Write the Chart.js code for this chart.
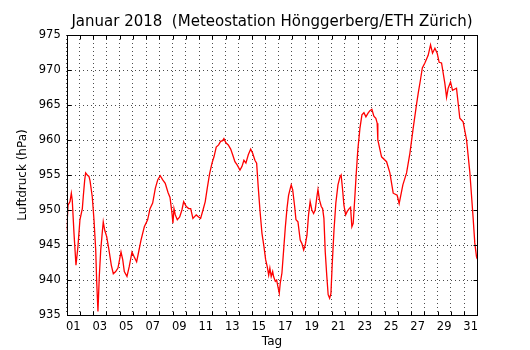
<!DOCTYPE html>
<html lang="de">
<head>
<meta charset="utf-8">
<title>Luftdruck Januar 2018</title>
<script src="https://cdn.jsdelivr.net/npm/chart.js@4/dist/chart.umd.min.js"></script>
<style>
    html, body { margin: 0; padding: 0; background: #fff; }
    canvas { display: block; }
</style>
</head>
<body>
<canvas id="druckChart" width="530" height="350"></canvas>
<script>
// Zeit in Tagen seit 1. Januar 00:00
const tage = [
    0.00, 0.10, 0.25, 0.35, 0.42, 0.55, 0.70, 0.85, 1.00, 1.18,
    1.25, 1.36, 1.43, 1.55, 1.68, 1.76, 1.93, 2.06, 2.19, 2.26,
    2.36, 2.46, 2.57, 2.69, 2.76, 2.87, 3.02, 3.19, 3.37, 3.52,
    3.70, 3.87, 4.10, 4.23, 4.35, 4.55, 4.72, 4.93, 5.10, 5.28,
    5.43, 5.61, 5.86, 6.11, 6.29, 6.49, 6.69, 6.87, 7.06, 7.25,
    7.44, 7.65, 7.80, 7.95, 8.02, 8.10, 8.20, 8.35, 8.53, 8.70,
    8.83, 9.03, 9.21, 9.36, 9.53, 9.78, 9.96, 10.11, 10.29, 10.46,
    10.61, 10.79, 10.97, 11.12, 11.29, 11.47, 11.62, 11.77, 11.87, 12.02,
    12.20, 12.38, 12.53, 12.70, 12.88, 13.08, 13.23, 13.38, 13.53, 13.71,
    13.89, 14.04, 14.21, 14.34, 14.46, 14.59, 14.74, 14.89, 15.02, 15.14,
    15.25, 15.34, 15.44, 15.55, 15.62, 15.75, 15.85, 15.95, 16.05, 16.12,
    16.25, 16.38, 16.50, 16.63, 16.75, 16.88, 16.95, 17.06, 17.21, 17.31,
    17.46, 17.63, 17.76, 17.89, 18.01, 18.14, 18.26, 18.38, 18.51, 18.64,
    18.76, 18.89, 18.97, 19.09, 19.22, 19.32, 19.42, 19.52, 19.64, 19.74,
    19.85, 19.95, 20.05, 20.18, 20.32, 20.48, 20.63, 20.72, 20.83, 20.93,
    21.06, 21.18, 21.33, 21.43, 21.53, 21.63, 21.74, 21.86, 21.98, 22.14,
    22.29, 22.44, 22.59, 22.74, 22.89, 23.04, 23.19, 23.34, 23.44, 23.49,
    23.77, 24.15, 24.40, 24.65, 24.95, 25.10, 25.38, 25.66, 25.91, 26.14,
    26.42, 26.55, 26.70, 26.85, 27.04, 27.29, 27.47, 27.62, 27.80, 27.97,
    28.12, 28.30, 28.55, 28.68, 28.80, 28.98, 29.13, 29.43, 29.68, 29.93,
    30.19, 30.44, 30.68, 30.81, 30.94, 31.00
];

// Luftdruck in hPa
const druck = [
    947.1, 950.7, 951.2, 952.4, 951.4, 946.7, 942.1, 944.8, 948.6, 950.2,
    951.9, 954.3, 955.3, 955.0, 954.8, 954.2, 951.9, 948.6, 944.3, 940.0,
    935.5, 940.5, 944.3, 946.9, 948.3, 947.1, 946.2, 944.3, 942.1, 940.9,
    941.2, 941.7, 944.0, 942.9, 941.2, 940.5, 941.9, 944.0, 943.3, 942.6,
    944.0, 945.7, 947.6, 948.6, 950.2, 951.0, 953.1, 954.3, 954.9, 954.3,
    953.8, 952.5, 951.8, 949.5, 948.1, 950.2, 949.3, 948.6, 949.0, 950.0,
    951.2, 950.5, 950.2, 950.2, 948.8, 949.3, 949.0, 948.8, 950.0, 951.2,
    953.1, 955.2, 956.7, 957.6, 959.0, 959.3, 959.8, 959.9, 960.2, 959.6,
    959.3, 958.7, 957.9, 956.9, 956.4, 955.7, 956.2, 957.1, 956.7, 957.9,
    958.7, 958.1, 957.1, 956.7, 953.3, 950.0, 946.7, 944.8, 942.9, 941.9,
    940.7, 941.7, 940.5, 941.2, 940.5, 939.8, 940.0, 939.0, 938.1, 939.5,
    941.0, 944.3, 947.4, 950.2, 952.1, 953.1, 953.6, 952.9, 950.5, 948.6,
    948.3, 945.7, 945.2, 944.3, 945.0, 946.4, 949.3, 951.2, 950.0, 949.5,
    950.0, 951.9, 952.9, 951.4, 950.5, 950.2, 948.8, 944.0, 940.5, 937.9,
    937.4, 938.1, 942.4, 947.1, 951.0, 953.6, 954.7, 955.0, 952.9, 950.7,
    949.3, 949.8, 950.2, 950.4, 947.6, 948.1, 951.4, 955.2, 958.6, 961.7,
    963.6, 963.9, 963.3, 963.8, 964.2, 964.4, 963.4, 963.1, 962.4, 960.0,
    957.6, 956.9, 955.3, 952.4, 952.1, 950.9, 953.6, 955.3, 958.1, 961.4,
    965.2, 966.8, 968.5, 970.3, 971.0, 972.1, 973.6, 972.4, 973.1, 972.4,
    971.1, 971.0, 968.1, 966.1, 967.4, 968.3, 967.1, 967.4, 963.1, 962.6,
    960.0, 955.3, 949.0, 945.3, 943.3, 943.0
];

// Achsen
const tagMin = 0, tagMax = 31;
const druckMin = 935, druckMax = 975, druckSchritt = 5;

const schrift = 'DejaVu Sans';
Chart.defaults.color = '#000';
Chart.defaults.font.family = schrift;

// Rahmen und nach innen zeigende Ticks auf allen vier Seiten
const rahmenPlugin = {
    id: 'rahmen',
    afterDraw(chart) {
        const {ctx, chartArea: a, scales: {x, y}} = chart;
        const len = 4;
        const l = Math.round(a.left) + 0.5, r = Math.round(a.right) + 0.5;
        const t = Math.round(a.top) + 0.5, b = Math.round(a.bottom) + 0.5;
        ctx.save();
        ctx.strokeStyle = '#000';
        ctx.lineWidth = 1;
        ctx.beginPath();
        x.ticks.forEach(tick => {
            const px = Math.round(x.getPixelForValue(tick.value)) + 0.5;
            ctx.moveTo(px, b); ctx.lineTo(px, b - len);
            ctx.moveTo(px, t); ctx.lineTo(px, t + len);
        });
        y.ticks.forEach(tick => {
            const py = Math.round(y.getPixelForValue(tick.value)) + 0.5;
            ctx.moveTo(l, py); ctx.lineTo(l + len, py);
            ctx.moveTo(r, py); ctx.lineTo(r - len, py);
        });
        ctx.stroke();
        ctx.strokeRect(l, t, r - l, b - t);
        ctx.restore();
    }
};

const gitter = {
    color: 'rgba(0, 0, 0, 0.7)',
    lineWidth: 1,
    drawTicks: false
};

const chart = new Chart(document.getElementById('druckChart'), {
    type: 'line',
    data: {
        datasets: [{
            data: tage.map((t, i) => ({x: t, y: druck[i]})),
            borderColor: '#ff0000',
            borderWidth: 1.3,
            pointRadius: 0,
            tension: 0,
            fill: false
        }]
    },
    options: {
        responsive: false,
        animation: false,
        layout: {
            padding: {left: 11.8, right: 52.7, top: 0, bottom: 0}
        },
        plugins: {
            legend: {display: false},
            tooltip: {enabled: false},
            title: {
                display: true,
                fullSize: false,
                text: 'Januar 2018  (Meteostation Hönggerberg/ETH Zürich)',
                color: '#000',
                font: {family: schrift, size: 15, weight: 'normal'},
                padding: {top: 13.5, bottom: 3.5}
            }
        },
        scales: {
            x: {
                type: 'linear',
                min: tagMin,
                max: tagMax,
                grid: gitter,
                border: {display: false, dash: [1, 3]},
                ticks: {
                    stepSize: 1,
                    autoSkip: false,
                    maxRotation: 0,
                    padding: 5,
                    labelOffset: 6.6,
                    font: {size: 11.5},
                    // Beschriftung jeden zweiten Tag, in der Tagesmitte
                    callback: v => v % 2 === 0 && v < tagMax ? String(v + 1).padStart(2, '0') : ''
                },
                title: {
                    display: true,
                    text: 'Tag',
                    font: {size: 12},
                    padding: {top: 0, bottom: 1}
                },
                afterFit: s => { s.height = 35; }
            },
            y: {
                min: druckMin,
                max: druckMax,
                grid: gitter,
                border: {display: false, dash: [1, 3]},
                ticks: {
                    stepSize: druckSchritt,
                    padding: 6,
                    font: {size: 11.5}
                },
                title: {
                    display: true,
                    text: 'Luftdruck (hPa)',
                    font: {size: 12},
                    padding: {top: 4, bottom: 4}
                },
                afterFit: s => { s.width = 54.9; }
            }
        }
    },
    plugins: [rahmenPlugin]
});
</script>
</body>
</html>
